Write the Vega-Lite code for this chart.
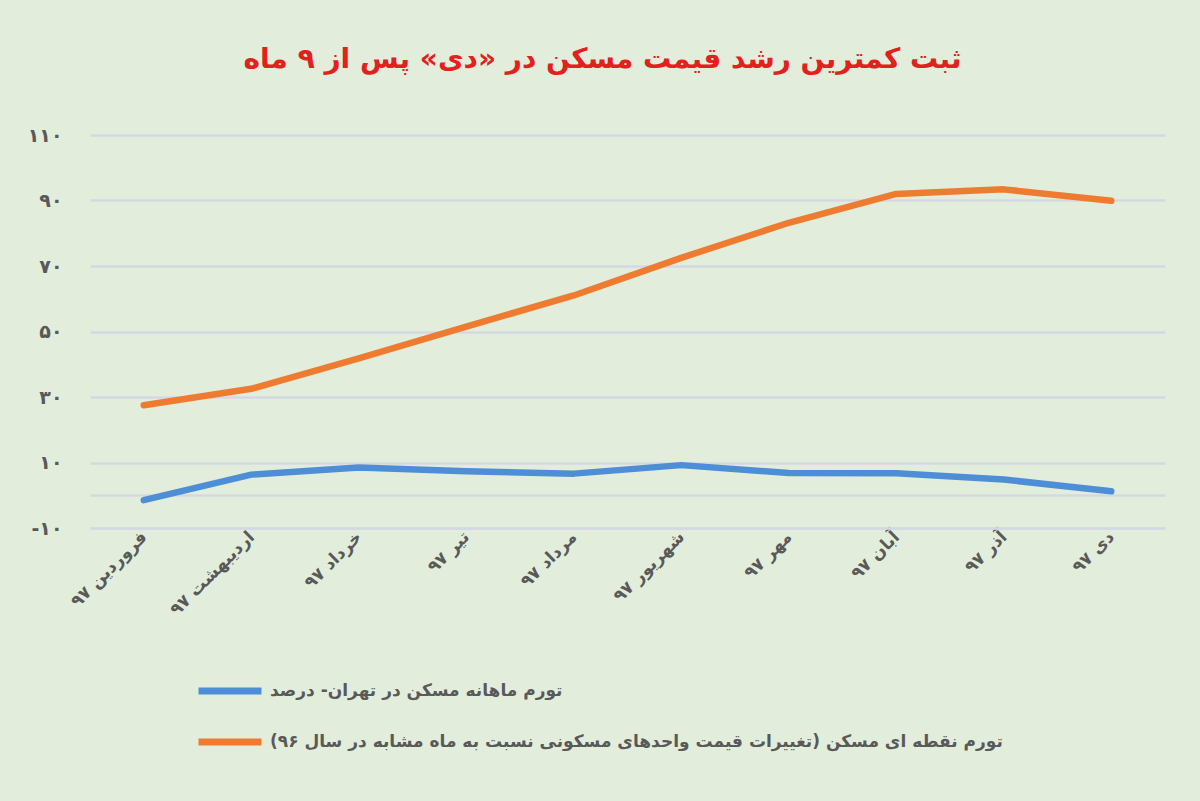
{
  "$schema": "https://vega.github.io/schema/vega-lite/v6.json",
  "width": 1075,
  "height": 393,
  "autosize": {"type": "none"},
  "padding": {"left": 90, "top": 135, "right": 35, "bottom": 273},
  "background": "#e2eedb",
  "config": {
    "view": {"stroke": null},
    "font": "DejaVu Sans"
  },
  "title": {
    "text": "ثبت کمترین رشد قیمت مسکن در «دی» پس از ۹ ماه",
    "color": "#e3201b",
    "fontSize": 28,
    "fontWeight": "bold",
    "anchor": "middle",
    "offset": 52,
    "dx": -25
  },
  "data": {
    "values": [
      {"month": "فروردین ۹۷", "series": "تورم ماهانه مسکن در تهران- درصد", "value": -1.5},
      {"month": "اردیبهشت ۹۷", "series": "تورم ماهانه مسکن در تهران- درصد", "value": 6.3},
      {"month": "خرداد ۹۷", "series": "تورم ماهانه مسکن در تهران- درصد", "value": 8.5},
      {"month": "تیر ۹۷", "series": "تورم ماهانه مسکن در تهران- درصد", "value": 7.3},
      {"month": "مرداد ۹۷", "series": "تورم ماهانه مسکن در تهران- درصد", "value": 6.6},
      {"month": "شهریور ۹۷", "series": "تورم ماهانه مسکن در تهران- درصد", "value": 9.2},
      {"month": "مهر ۹۷", "series": "تورم ماهانه مسکن در تهران- درصد", "value": 6.8},
      {"month": "آبان ۹۷", "series": "تورم ماهانه مسکن در تهران- درصد", "value": 6.7},
      {"month": "آذر ۹۷", "series": "تورم ماهانه مسکن در تهران- درصد", "value": 4.8},
      {"month": "دی ۹۷", "series": "تورم ماهانه مسکن در تهران- درصد", "value": 1.2},
      {"month": "فروردین ۹۷", "series": "تورم نقطه ای مسکن (تغییرات قیمت واحدهای مسکونی نسبت به ماه مشابه در سال ۹۶)", "value": 27.5},
      {"month": "اردیبهشت ۹۷", "series": "تورم نقطه ای مسکن (تغییرات قیمت واحدهای مسکونی نسبت به ماه مشابه در سال ۹۶)", "value": 32.5},
      {"month": "خرداد ۹۷", "series": "تورم نقطه ای مسکن (تغییرات قیمت واحدهای مسکونی نسبت به ماه مشابه در سال ۹۶)", "value": 41.8},
      {"month": "تیر ۹۷", "series": "تورم نقطه ای مسکن (تغییرات قیمت واحدهای مسکونی نسبت به ماه مشابه در سال ۹۶)", "value": 51.5},
      {"month": "مرداد ۹۷", "series": "تورم نقطه ای مسکن (تغییرات قیمت واحدهای مسکونی نسبت به ماه مشابه در سال ۹۶)", "value": 61},
      {"month": "شهریور ۹۷", "series": "تورم نقطه ای مسکن (تغییرات قیمت واحدهای مسکونی نسبت به ماه مشابه در سال ۹۶)", "value": 72.5},
      {"month": "مهر ۹۷", "series": "تورم نقطه ای مسکن (تغییرات قیمت واحدهای مسکونی نسبت به ماه مشابه در سال ۹۶)", "value": 83.2},
      {"month": "آبان ۹۷", "series": "تورم نقطه ای مسکن (تغییرات قیمت واحدهای مسکونی نسبت به ماه مشابه در سال ۹۶)", "value": 92},
      {"month": "آذر ۹۷", "series": "تورم نقطه ای مسکن (تغییرات قیمت واحدهای مسکونی نسبت به ماه مشابه در سال ۹۶)", "value": 93.4},
      {"month": "دی ۹۷", "series": "تورم نقطه ای مسکن (تغییرات قیمت واحدهای مسکونی نسبت به ماه مشابه در سال ۹۶)", "value": 89.9}
    ]
  },
  "mark": {"type": "line", "strokeWidth": 6.5, "strokeCap": "round", "strokeJoin": "round"},
  "encoding": {
    "x": {
      "field": "month",
      "type": "ordinal",
      "scale": {
        "type": "point",
        "padding": 0.5,
        "domain": ["فروردین ۹۷", "اردیبهشت ۹۷", "خرداد ۹۷", "تیر ۹۷", "مرداد ۹۷", "شهریور ۹۷", "مهر ۹۷", "آبان ۹۷", "آذر ۹۷", "دی ۹۷"]
      },
      "axis": {
        "title": null,
        "labelAngle": -45,
        "labelAlign": "right",
        "labelBaseline": "middle",
        "labelFontSize": 17,
        "labelFontWeight": "bold",
        "labelColor": "#595959",
        "labelPadding": 6,
        "ticks": false,
        "grid": false,
        "domainColor": "#d5d8e4",
        "domainWidth": 2.5
      }
    },
    "y": {
      "field": "value",
      "type": "quantitative",
      "scale": {"domain": [-10, 110], "nice": false, "zero": false},
      "axis": {
        "title": null,
        "values": [-10, 0, 10, 30, 50, 70, 90, 110],
        "labelExpr": "datum.value === 0 ? '' : replace(replace(replace(replace(replace(replace('' + datum.value, regexp('0', 'g'), '۰'), regexp('1', 'g'), '۱'), regexp('3', 'g'), '۳'), regexp('5', 'g'), '۵'), regexp('7', 'g'), '۷'), regexp('9', 'g'), '۹')",
        "grid": true,
        "gridColor": "#d5d8e4",
        "gridWidth": 2.5,
        "domain": false,
        "ticks": false,
        "labelPadding": 28,
        "labelFontSize": 19,
        "labelFontWeight": "bold",
        "labelColor": "#595959"
      }
    },
    "color": {
      "field": "series",
      "type": "nominal",
      "scale": {
        "domain": ["تورم ماهانه مسکن در تهران- درصد", "تورم نقطه ای مسکن (تغییرات قیمت واحدهای مسکونی نسبت به ماه مشابه در سال ۹۶)"],
        "range": ["#4e8ed6", "#ee7b30"]
      },
      "legend": {
        "orient": "none",
        "legendX": 105,
        "legendY": 521,
        "direction": "vertical",
        "title": null,
        "symbolType": "stroke",
        "symbolSize": 3969,
        "symbolStrokeWidth": 7,
        "labelFontSize": 17,
        "labelFontWeight": "bold",
        "labelColor": "#595959",
        "labelOffset": 5,
        "labelLimit": 0,
        "rowPadding": 2,
        "labelExpr": "datum.label + '\u200f'"
      }
    }
  }
}
